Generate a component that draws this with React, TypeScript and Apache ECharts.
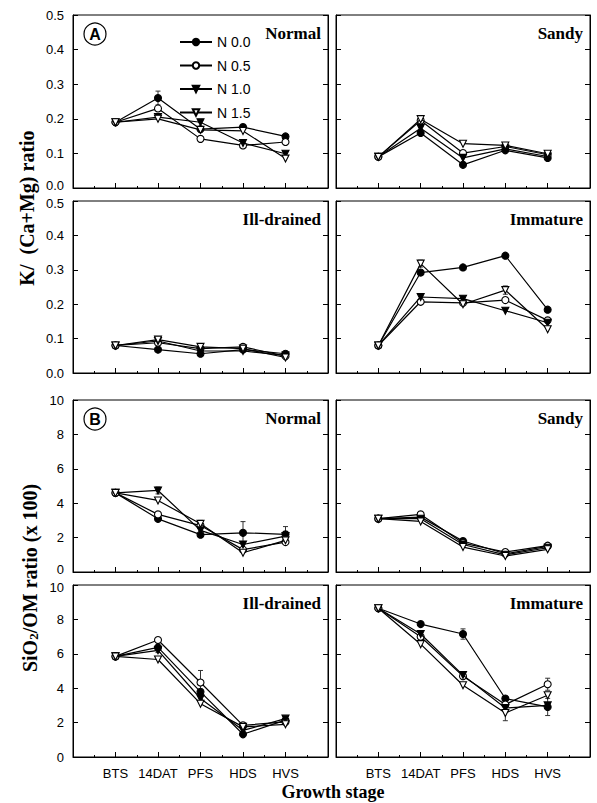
import React, { useEffect, useRef } from 'react';
import * as echarts from 'echarts';

const stages = ['BTS', '14DAT', 'PFS', 'HDS', 'HVS'];
const treatments = ['N 0.0', 'N 0.5', 'N 1.0', 'N 1.5'];
const panelNames = ['Normal', 'Sandy', 'Ill-drained', 'Immature', 'Normal', 'Sandy', 'Ill-drained', 'Immature'];

// K/(Ca+Mg) ratio
const kNormal00 = [0.19, 0.26, 0.17, 0.176, 0.149];
const kNormal05 = [0.19, 0.23, 0.142, 0.123, 0.133];
const kNormal10 = [0.19, 0.205, 0.19, 0.13, 0.099];
const kNormal15 = [0.19, 0.2, 0.168, 0.165, 0.085];

const kSandy00 = [0.09, 0.159, 0.067, 0.109, 0.087];
const kSandy05 = [0.09, 0.195, 0.101, 0.12, 0.096];
const kSandy10 = [0.09, 0.173, 0.087, 0.113, 0.091];
const kSandy15 = [0.09, 0.199, 0.128, 0.123, 0.099];

const kIll00 = [0.08, 0.068, 0.056, 0.068, 0.056];
const kIll05 = [0.08, 0.088, 0.071, 0.076, 0.049];
const kIll10 = [0.08, 0.093, 0.064, 0.064, 0.051];
const kIll15 = [0.08, 0.097, 0.076, 0.071, 0.045];

const kImm00 = [0.08, 0.292, 0.307, 0.341, 0.184];
const kImm05 = [0.08, 0.207, 0.204, 0.212, 0.153];
const kImm10 = [0.08, 0.221, 0.216, 0.181, 0.146];
const kImm15 = [0.08, 0.318, 0.2, 0.241, 0.127];

// SiO2/OM ratio (x 100)
const sNormal00 = [4.6, 3.09, 2.17, 2.28, 2.19];
const sNormal05 = [4.6, 3.35, 2.7, 1.3, 1.74];
const sNormal10 = [4.6, 4.74, 2.42, 1.6, 2.09];
const sNormal15 = [4.6, 4.16, 2.8, 1.12, 1.84];

const sSandy00 = [3.1, 3.19, 1.8, 1.06, 1.49];
const sSandy05 = [3.1, 3.35, 1.68, 1.16, 1.53];
const sSandy10 = [3.1, 3.1, 1.6, 1.0, 1.41];
const sSandy15 = [3.1, 2.94, 1.45, 0.93, 1.32];

const sIll00 = [5.85, 6.37, 3.79, 1.32, 2.14];
const sIll05 = [5.85, 6.8, 4.33, 1.84, 2.04];
const sIll10 = [5.85, 6.2, 3.4, 1.55, 2.23];
const sIll15 = [5.85, 5.67, 3.1, 1.75, 1.9];

const sImm00 = [8.65, 7.73, 7.15, 3.4, 2.91];
const sImm05 = [8.65, 6.99, 4.7, 3.05, 4.23];
const sImm10 = [8.65, 7.15, 4.76, 2.85, 3.0];
const sImm15 = [8.65, 6.56, 4.17, 2.56, 3.59];

const panelData = [
  [kNormal00, kNormal05, kNormal10, kNormal15],
  [kSandy00, kSandy05, kSandy10, kSandy15],
  [kIll00, kIll05, kIll10, kIll15],
  [kImm00, kImm05, kImm10, kImm15],
  [sNormal00, sNormal05, sNormal10, sNormal15],
  [sSandy00, sSandy05, sSandy10, sSandy15],
  [sIll00, sIll05, sIll10, sIll15],
  [sImm00, sImm05, sImm10, sImm15],
];

// error bars: [panel, treatment, stage, error]
const errorBars = [
  [0, 0, 1, 0.02],
  [3, 3, 3, 0.012],
  [3, 3, 1, 0.01],
  [4, 0, 3, 0.65],
  [4, 0, 4, 0.45],
  [4, 2, 1, 0.2],
  [4, 3, 2, 0.2],
  [6, 1, 2, 0.7],
  [6, 0, 1, 0.3],
  [7, 0, 2, 0.3],
  [7, 1, 4, 0.35],
  [7, 0, 4, 0.5],
  [7, 3, 3, 0.45],
  [7, 2, 2, 0.2],
];

const kTicks = { min: 0, max: 0.5, interval: 0.1 };
const sTicks = { min: 0, max: 10, interval: 2 };

const cols = [
  { left: 73, width: 255 },
  { left: 336, width: 254 },
];
const rows = [
  { top: 15, height: 173 },
  { top: 201, height: 172 },
  { top: 400, height: 172 },
  { top: 585, height: 172 },
];

const serif = '"Liberation Serif", "Times New Roman", serif';
const sans = '"Liberation Sans", Arial, Helvetica, sans-serif';

const symbols = [
  { symbol: 'circle', rotate: 0, fill: '#000', size: 7 },
  { symbol: 'circle', rotate: 0, fill: '#fff', size: 7 },
  { symbol: 'triangle', rotate: 180, fill: '#000', size: 7 },
  { symbol: 'triangle', rotate: 180, fill: '#fff', size: 7 },
];

export default function App() {
  const ref = useRef<HTMLDivElement>(null);
  useEffect(() => {
    if (!ref.current) return;
    const chart = echarts.init(ref.current, null, { renderer: 'svg' });
    const grids: any[] = [];
    const xAxes: any[] = [];
    const yAxes: any[] = [];
    const series: any[] = [];
    const graphics: any[] = [];

    for (let p = 0; p < 8; p++) {
      const r = Math.floor(p / 2);
      const c = p % 2;
      const g = { ...cols[c], ...rows[r] };
      grids.push({
        left: g.left,
        top: g.top,
        width: g.width,
        height: g.height,
        show: true,
        borderColor: '#000',
        borderWidth: 1,
        backgroundColor: 'transparent',
      });
      const isBottom = r === 3;
      xAxes.push({
        gridIndex: p,
        type: 'value',
        min: 0,
        max: 6,
        interval: 1,
        splitLine: { show: false },
        axisLine: { show: true, lineStyle: { color: '#000', width: 1 } },
        axisTick: { show: true, inside: true, length: 5, lineStyle: { color: '#000' } },
        minorTick: { show: true, splitNumber: 2, length: 2, lineStyle: { color: '#000' } },
        axisLabel: {
          show: isBottom,
          margin: 10,
          fontFamily: sans,
          fontSize: 13,
          color: '#000',
          formatter: (v: number) => (v >= 1 && v <= 5 ? stages[v - 1] : ''),
        },
      });
      const ticks = r < 2 ? kTicks : sTicks;
      const upper = r === 0 || r === 2;
      yAxes.push({
        gridIndex: p,
        type: 'value',
        position: 'left',
        ...ticks,
        splitLine: { show: false },
        axisLine: { show: true, lineStyle: { color: '#000', width: 1 } },
        axisTick: { show: true, inside: true, length: 5, lineStyle: { color: '#000' } },
        axisLabel: {
          show: c === 0,
          margin: 9,
          fontFamily: sans,
          fontSize: 13,
          color: '#000',
          showMinLabel: true,
          showMaxLabel: true,
          formatter: (v: number) => {
            const s = r < 2 ? v.toFixed(1) : String(Math.round(v));
            if (upper && v === ticks.min) return `{u|${s}}`;
            if (!upper && v === ticks.max) return `{d|${s}}`;
            return s;
          },
          rich: {
            u: { fontFamily: sans, fontSize: 13, color: '#000', padding: [0, 0, 5, 0] },
            d: { fontFamily: sans, fontSize: 13, color: '#000', padding: [5, 0, 0, 0] },
          },
        },
      });
      yAxes.push({
        gridIndex: p,
        type: 'value',
        position: 'right',
        ...ticks,
        splitLine: { show: false },
        axisLine: { show: true, lineStyle: { color: '#000', width: 1 } },
        axisTick: { show: true, inside: true, length: 5, lineStyle: { color: '#000' } },
        axisLabel: { show: false },
      });

      // error bars
      const eb = errorBars
        .filter((e) => e[0] === p)
        .map((e) => [e[2] + 1, panelData[p][e[1]][e[2]], e[3]]);
      if (eb.length) {
        series.push({
          type: 'custom',
          xAxisIndex: p,
          yAxisIndex: p * 2,
          z: 1,
          silent: true,
          data: eb,
          renderItem: (params: any, api: any) => {
            const x = api.value(0);
            const y = api.value(1);
            const e = api.value(2);
            const t = api.coord([x, y + e]);
            const b = api.coord([x, y - e]);
            const st = { stroke: '#333', lineWidth: 1 };
            return {
              type: 'group',
              children: [
                { type: 'line', shape: { x1: t[0], y1: t[1], x2: b[0], y2: b[1] }, style: st },
                { type: 'line', shape: { x1: t[0] - 2.5, y1: t[1], x2: t[0] + 2.5, y2: t[1] }, style: st },
                { type: 'line', shape: { x1: b[0] - 2.5, y1: b[1], x2: b[0] + 2.5, y2: b[1] }, style: st },
              ],
            };
          },
        });
      }

      for (let t = 0; t < 4; t++) {
        const s = symbols[t];
        series.push({
          type: 'line',
          name: treatments[t],
          xAxisIndex: p,
          yAxisIndex: p * 2,
          data: panelData[p][t].map((v, i) => [i + 1, v]),
          symbol: s.symbol,
          symbolRotate: s.rotate,
          symbolSize: s.size,
          showSymbol: true,
          z: 3 + t,
          lineStyle: { color: '#000', width: 1.2 },
          itemStyle: { color: s.fill, borderColor: '#000', borderWidth: 1.1 },
        });
      }

      graphics.push({
        type: 'text',
        x: g.left + g.width - 7,
        y: g.top + 18,
        style: {
          text: panelNames[p],
          fill: '#000',
          font: `bold 17px ${serif}`,
          textAlign: 'right',
          textVerticalAlign: 'middle',
        },
      });
    }

    // circled panel letters
    [
      { label: 'A', y: 34 },
      { label: 'B', y: 419 },
    ].forEach((l) => {
      graphics.push({
        type: 'circle',
        shape: { cx: 95, cy: l.y, r: 11 },
        style: { fill: '#fff', stroke: '#000', lineWidth: 1.2 },
        z: 10,
      });
      graphics.push({
        type: 'text',
        x: 95,
        y: l.y + 0.5,
        z: 11,
        style: {
          text: l.label,
          fill: '#000',
          font: `bold 16px ${sans}`,
          textAlign: 'center',
          textVerticalAlign: 'middle',
        },
      });
    });

    graphics.push({
      type: 'text',
      x: 27,
      y: 208,
      rotation: Math.PI / 2,
      style: {
        text: 'K/  (Ca+Mg) ratio',
        fill: '#000',
        font: `bold 20px ${serif}`,
        textAlign: 'center',
        textVerticalAlign: 'middle',
      },
    });
    graphics.push({
      type: 'text',
      x: 27,
      y: 578,
      rotation: Math.PI / 2,
      style: {
        text: '{a|SiO}{s|2}{a|/OM ratio (x 100)}',
        fill: '#000',
        textAlign: 'center',
        textVerticalAlign: 'middle',
        rich: {
          a: { fontFamily: serif, fontWeight: 'bold', fontSize: 20, lineHeight: 26, verticalAlign: 'bottom', fill: '#000' },
          s: { fontFamily: serif, fontWeight: 'bold', fontSize: 13, lineHeight: 13, verticalAlign: 'bottom', fill: '#000' },
        },
      },
    });
    graphics.push({
      type: 'text',
      x: 333,
      y: 792,
      style: {
        text: 'Growth stage',
        fill: '#000',
        font: `bold 18px ${serif}`,
        textAlign: 'center',
        textVerticalAlign: 'middle',
      },
    });

    chart.setOption({
      animation: false,
      backgroundColor: '#fff',
      grid: grids,
      xAxis: xAxes,
      yAxis: yAxes,
      series,
      graphic: graphics,
      legend: {
        data: treatments,
        orient: 'vertical',
        left: 174,
        top: 30,
        itemWidth: 32,
        itemHeight: 8,
        itemGap: 9.5,
        selectedMode: false,
        textStyle: { fontFamily: sans, fontSize: 14, color: '#000' },
      },
    });
    return () => chart.dispose();
  }, []);
  return <div ref={ref} style={{ position: 'fixed', left: 0, top: 0, width: 597, height: 803 }} />;
}
